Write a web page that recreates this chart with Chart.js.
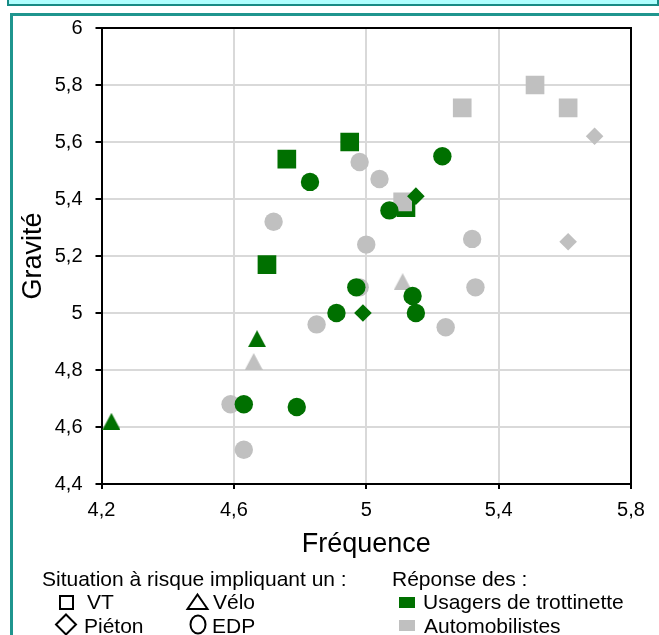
<!DOCTYPE html>
<html><head><meta charset="utf-8">
<script src="https://cdn.jsdelivr.net/npm/chart.js@4.4.1/dist/chart.umd.min.js"></script>
<style>
html,body{margin:0;padding:0;background:#fff;overflow:hidden;}
#wrap{position:relative;width:659px;height:635px;overflow:hidden;font-family:"Liberation Sans",Arial,sans-serif;}
#topbox{position:absolute;left:7px;top:-30px;width:648px;height:32px;background:#aefefe;border:2px solid #178a84;}
#mainbox{position:absolute;left:10px;top:13px;width:720px;height:720px;border:3px solid #1f958e;box-sizing:border-box;}
#cv{position:absolute;left:0;top:0;}
.lg{position:absolute;font-size:21px;line-height:21px;color:#000;white-space:nowrap;}
#sym{position:absolute;left:0;top:0;pointer-events:none;}
</style></head>
<body>
<div id="wrap">
  <div id="topbox"></div>
  <div id="mainbox"></div>
  <canvas id="cv" width="659" height="635"></canvas>
  <svg id="sym" width="659" height="635">
    <rect x="60" y="596" width="13" height="13" fill="none" stroke="#000" stroke-width="2"/>
    <polygon points="197.5,594.5 207.5,609 187.5,609" fill="none" stroke="#000" stroke-width="2"/>
    <polygon points="66,614.5 76,624.5 66,634.5 56,624.5" fill="none" stroke="#000" stroke-width="2"/>
    <ellipse cx="198" cy="624.5" rx="7.5" ry="9" fill="none" stroke="#000" stroke-width="2"/>
    <rect x="399" y="597" width="16" height="11" fill="#007000"/>
    <rect x="399" y="620" width="16" height="11" fill="#c0c0c0"/>
  </svg>
  <div class="lg" style="left:42px;top:568px">Situation à risque impliquant un :</div>
  <div class="lg" style="left:392px;top:568px">Réponse des :</div>
  <div class="lg" style="left:87px;top:591px">VT</div>
  <div class="lg" style="left:213px;top:591px">Vélo</div>
  <div class="lg" style="left:423px;top:591px">Usagers de trottinette</div>
  <div class="lg" style="left:84px;top:615px">Piéton</div>
  <div class="lg" style="left:212px;top:615px">EDP</div>
  <div class="lg" style="left:424px;top:615px">Automobilistes</div>
</div>
<script>
// Axis ticks
const xTicks = [4.2, 4.6, 5, 5.4, 5.8];
const yTicks = [4.4, 4.6, 4.8, 5, 5.2, 5.4, 5.6, 5.8, 6];

// Usagers de trottinette (green)
const usagersVT_x = [4.95, 4.76, 4.70, 5.12];
const usagersVT_y = [5.60, 5.54, 5.17, 5.37];
const usagersPieton_x = [5.15, 4.99];
const usagersPieton_y = [5.41, 5.00];
const usagersVelo_x = [4.23, 4.67];
const usagersVelo_y = [4.62, 4.91];
const usagersEDP_x = [4.83, 5.23, 5.07, 4.97, 4.91, 5.14, 5.15, 4.63, 4.79];
const usagersEDP_y = [5.46, 5.55, 5.36, 5.09, 5.00, 5.06, 5.00, 4.68, 4.67];

// Automobilistes (grey)
const autoVT_x = [5.51, 5.29, 5.61, 5.11];
const autoVT_y = [5.80, 5.72, 5.72, 5.39];
const autoPieton_x = [5.69, 5.61];
const autoPieton_y = [5.62, 5.25];
const autoVelo_x = [4.66, 5.11];
const autoVelo_y = [4.83, 5.11];
const autoEDP_x = [4.98, 5.04, 4.72, 5.00, 4.98, 5.32, 5.33, 5.24, 4.85, 4.59, 4.63];
const autoEDP_y = [5.53, 5.47, 5.32, 5.24, 5.09, 5.26, 5.09, 4.95, 4.96, 4.68, 4.52];

const GREEN = '#007000';
const GREY = '#c0c0c0';
const FAMILY = "'Liberation Sans', Arial, sans-serif";

function pts(xs, ys) { return xs.map((x, i) => ({x: x, y: ys[i]})); }
function triImg(color) {
  const c = document.createElement('canvas');
  c.width = 18; c.height = 17;
  const g = c.getContext('2d');
  g.fillStyle = color;
  g.beginPath(); g.moveTo(9, 0); g.lineTo(18, 17); g.lineTo(0, 17); g.closePath(); g.fill();
  return c;
}
function ds(label, xs, ys, color, style, radius) {
  return {label: label, data: pts(xs, ys), pointStyle: style, pointRadius: radius,
          backgroundColor: color, borderColor: color, pointBorderWidth: 0, showLine: false};
}
function fmt(v) { return String(Math.round(v * 10) / 10).replace('.', ','); }

// bottom-to-top drawing order
const datasets = [
  ds('Automobilistes EDP', autoEDP_x, autoEDP_y, GREY, 'circle', 9.2),
  ds('Usagers VT', usagersVT_x, usagersVT_y, GREEN, 'rect', 13.2),
  ds('Automobilistes VT', autoVT_x, autoVT_y, GREY, 'rect', 13.2),
  ds('Usagers Piéton', usagersPieton_x, usagersPieton_y, GREEN, 'rectRot', 8.8),
  ds('Automobilistes Piéton', autoPieton_x, autoPieton_y, GREY, 'rectRot', 8.8),
  ds('Usagers Vélo', usagersVelo_x, usagersVelo_y, GREEN, triImg(GREEN), 9),
  ds('Automobilistes Vélo', autoVelo_x, autoVelo_y, GREY, triImg(GREY), 9),
  ds('Usagers EDP', usagersEDP_x, usagersEDP_y, GREEN, 'circle', 9.2)
];
datasets.forEach((d, i) => { d.order = datasets.length - i; });

const frame = {
  id: 'frame',
  beforeDatasetsDraw(c) {
    const {ctx, chartArea: a} = c;
    ctx.save();
    ctx.strokeStyle = '#000'; ctx.lineWidth = 2;
    ctx.beginPath();
    ctx.moveTo(a.left, a.top); ctx.lineTo(a.right, a.top); ctx.lineTo(a.right, a.bottom);
    ctx.stroke();
    ctx.restore();
  }
};

new Chart(document.getElementById('cv'), {
  type: 'scatter',
  data: {datasets: datasets},
  options: {
    responsive: false,
    animation: false,
    events: [],
    layout: {padding: {left: 10, top: 28, right: 28, bottom: 69.8}},
    plugins: {legend: {display: false}, tooltip: {enabled: false}},
    scales: {
      x: {
        type: 'linear', min: 4.2, max: 5.8,
        afterBuildTicks(s) { s.ticks = xTicks.map(v => ({value: v})); },
        afterFit(s) { s.height = 81.2; },
        ticks: {padding: 9, color: '#000', font: {size: 20, family: FAMILY}, callback: v => fmt(v), maxRotation: 0},
        grid: {color: '#d9d9d9', lineWidth: 2, tickColor: '#000', tickLength: 5, tickWidth: 2},
        border: {color: '#000', width: 2},
        title: {display: true, text: 'Fréquence', color: '#000', font: {size: 27, family: FAMILY}, padding: {top: 4, bottom: 4}}
      },
      y: {
        type: 'linear', min: 4.4, max: 6,
        afterBuildTicks(s) { s.ticks = yTicks.map(v => ({value: v})); },
        afterFit(s) { s.width = 91.5; },
        ticks: {padding: 13, color: '#000', font: {size: 20, family: FAMILY}, callback: v => fmt(v)},
        grid: {color: '#d9d9d9', lineWidth: 2, tickColor: '#000', tickLength: 6, tickWidth: 2},
        border: {color: '#000', width: 2},
        title: {display: true, text: 'Gravité', color: '#000', font: {size: 27, family: FAMILY}, padding: {top: 7, bottom: 0}}
      }
    }
  },
  plugins: [frame]
});
</script>
</body></html>
